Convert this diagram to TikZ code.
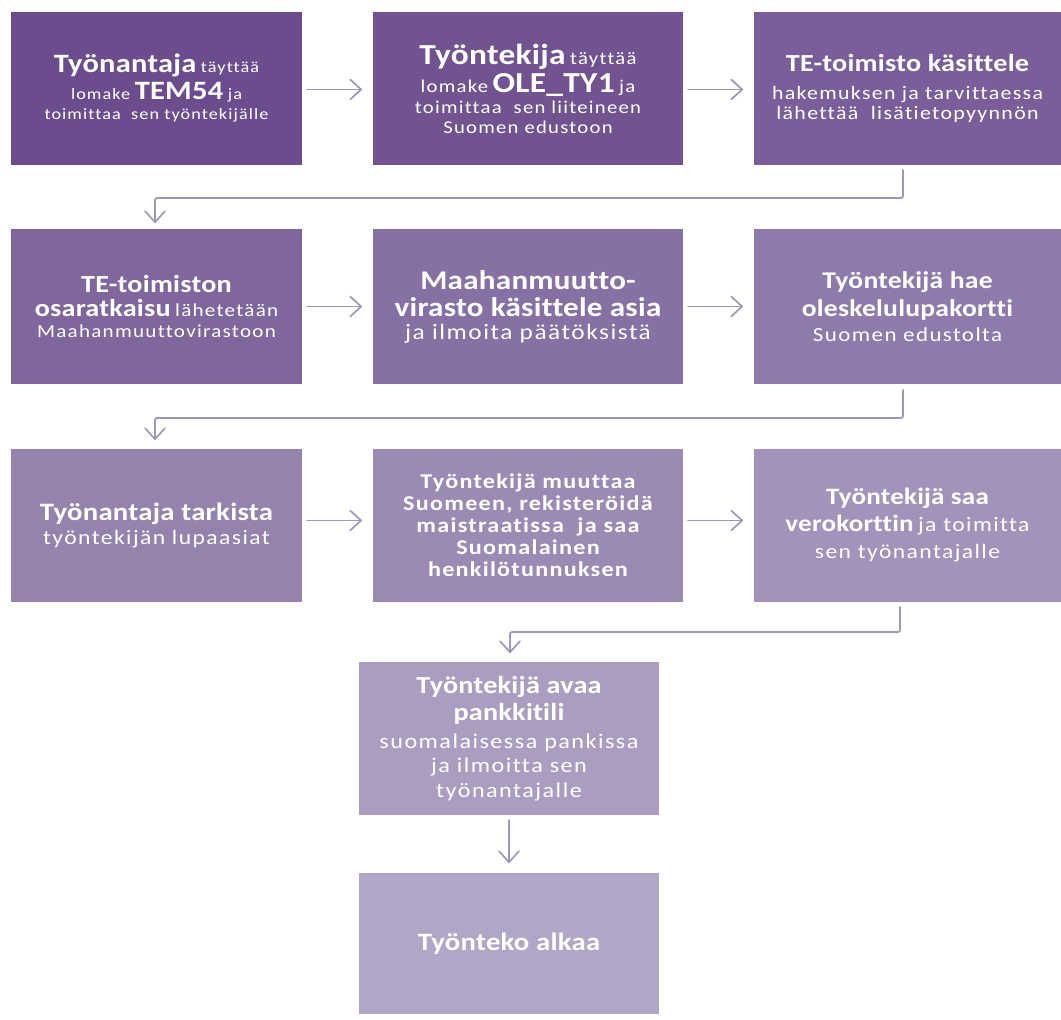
\documentclass[tikz,border=0pt]{standalone}
\usepackage{fontspec}
\setmainfont{Carlito}
\newfontfamily\fR[FakeStretch=1.15,LetterSpace=7,Ligatures=NoCommon]{Carlito}
\newfontfamily\fB[FakeStretch=1.15,LetterSpace=1,Ligatures=NoCommon]{Carlito}
\newfontfamily\fS[FakeStretch=1.15,LetterSpace=6,Ligatures=NoCommon]{Carlito}
\usetikzlibrary{arrows.meta}
\definecolor{cA}{HTML}{6B4D8E}
\definecolor{cB}{HTML}{70538F}
\definecolor{cC}{HTML}{7A5E9A}
\definecolor{cD}{HTML}{7F669C}
\definecolor{cE}{HTML}{8770A3}
\definecolor{cF}{HTML}{8E7AAB}
\definecolor{cG}{HTML}{9583AE}
\definecolor{cH}{HTML}{9B8AB3}
\definecolor{cI}{HTML}{A393BA}
\definecolor{cJ}{HTML}{AA9DBF}
\definecolor{cK}{HTML}{B0A6C6}
\definecolor{linec}{HTML}{A096B9}
\newcommand\hb[2]{{\fB\bfseries\fontsize{#1}{0}\selectfont #2}}
\newcommand\rg[2]{{\fR\fontsize{#1}{0}\selectfont #2}}
\newcommand\semib[2]{{\fS\bfseries\fontsize{#1}{0}\selectfont #2}}
\begin{document}
\begin{tikzpicture}[x=1pt,y=-1pt,
  box/.style={rectangle, inner sep=0pt, outer sep=0pt, text=white, align=center,
    font={\fontsize{20}{0}\selectfont\lineskiplimit=-1000pt\lineskip=0pt}},
  colA/.style={minimum width=291pt},
  colB/.style={minimum width=310pt},
  colC/.style={minimum width=307pt},
  conn/.style={draw=linec, line width=1.7pt, line cap=round, rounded corners=2pt,
    -{Straight Barb[length=11pt,width=20pt,line cap=round,line join=round]}},
  hconn/.style={conn}
]
\useasboundingbox (0,0) rectangle (1061,1020);

% Row 1
\node[box, colA, fill=cA, minimum height=153pt] (b11) at (156.5,88.5)
 {\hb{26.5}{Työnantaja} \rg{15.8}{täyttää}\\[27pt]
  \rg{15.8}{lomake} \hb{26.5}{TEM54} \rg{15.8}{ja}\\[20pt]
  \rg{15.8}{toimittaa\ \ sen työntekijälle}};
\node[box, colB, fill=cB, minimum height=153pt] (b12) at (528,88.5)
 {\hb{29}{Työntekija} \rg{18}{täyttää}\\[28pt]
  \rg{18}{lomake} \hb{29}{OLE\_TY1} \rg{18}{ja}\\[21pt]
  \rg{18}{toimittaa\ \ sen liiteineen}\\[20pt]
  \rg{18}{Suomen edustoon}};
\node[box, colC, fill=cC, minimum height=153pt] (b13) at (907.5,88.5)
 {\hb{24.5}{TE-toimisto käsittele}\\[28pt]
  \rg{19}{hakemuksen ja tarvittaessa}\\[20pt]
  \rg{19}{lähettää\ \ lisätietopyynnön}};

% Row 2
\node[box, colA, fill=cD, minimum height=155pt] (b21) at (156.5,306.5)
 {\hb{24.5}{TE-toimiston}\\[24pt]
  \hb{24.5}{osaratkaisu} \rg{18.3}{lähetetään}\\[21pt]
  \rg{18.3}{Maahanmuuttovirastoon}};
\node[box, colB, fill=cE, minimum height=155pt] (b22) at (528,306.5)
 {\hb{27}{Maahanmuutto-}\\[27pt]
  \hb{27}{virasto käsittele asia}\\[23pt]
  \rg{22}{ja ilmoita päätöksistä}};
\node[box, colC, fill=cF, minimum height=155pt] (b23) at (907.5,306.5)
 {\hb{24}{Työntekijä hae}\\[28pt]
  \hb{24}{oleskelulupakortti}\\[25pt]
  \rg{20}{Suomen edustolta}};

% Row 3
\node[box, colA, fill=cG, minimum height=153pt] (b31) at (156.5,525.5)
 {\hb{25}{Työnantaja tarkista}\\[24pt]
  \rg{20.5}{työntekijän lupaasiat}};
\node[box, colB, fill=cH, minimum height=153pt] (b32) at (528,525.5)
 {\semib{21}{Työntekijä muuttaa}\\[22pt]
  \semib{21}{Suomeen, rekisteröidä}\\[22pt]
  \semib{21}{maistraatissa\ \ ja saa}\\[22pt]
  \semib{21}{Suomalainen}\\[22pt]
  \semib{21}{henkilötunnuksen}};
\node[box, colC, fill=cI, minimum height=153pt] (b33) at (907.5,525.5)
 {\hb{23.5}{Työntekijä saa}\\[27pt]
  \hb{23.5}{verokorttin} \rg{20.5}{ja toimitta}\\[27pt]
  \rg{20.5}{sen työnantajalle}};

% Rows 4 and 5
\node[box, minimum width=300pt, fill=cJ, minimum height=153pt] (b4) at (509,738.5)
 {\hb{24.5}{Työntekijä avaa}\\[27pt]
  \hb{24.5}{pankkitili}\\[28pt]
  \rg{21}{suomalaisessa pankissa}\\[24pt]
  \rg{21}{ja ilmoitta sen}\\[25pt]
  \rg{21}{työnantajalle}};
\node[box, minimum width=300pt, fill=cK, minimum height=141pt] (b5) at (509,943.5)
 {\hb{25}{Työnteko alkaa}};

% Connectors
\draw[hconn] ([xshift=5pt,yshift=-1pt]b11.east) -- ([xshift=-11pt,yshift=-1pt]b12.west);
\draw[hconn] ([xshift=5pt,yshift=-1pt]b12.east) -- ([xshift=-11pt,yshift=-1pt]b13.west);
\draw[hconn] ([xshift=5pt]b21.east) -- ([xshift=-11pt]b22.west);
\draw[hconn] ([xshift=5pt]b22.east) -- ([xshift=-11pt]b23.west);
\draw[hconn] ([xshift=5pt,yshift=5pt]b31.east) -- ([xshift=-11pt,yshift=5pt]b32.west);
\draw[hconn] ([xshift=5pt,yshift=5pt]b32.east) -- ([xshift=-11pt,yshift=5pt]b33.west);

\draw[conn] ([xshift=-4.5pt,yshift=-5pt]b13.south) -- ++(0,28) -| ([xshift=-1.5pt,yshift=6pt]b21.north);
\draw[conn] ([xshift=-4.5pt,yshift=-6pt]b23.south) -- ++(0,28) -| ([xshift=-1.5pt,yshift=9pt]b31.north);
\draw[conn] ([xshift=-7.5pt,yshift=-5pt]b33.south) -- ++(0,25) -| ([xshift=1pt,yshift=9pt]b4.north);
\draw[conn] ([yshift=-5pt]b4.south) -- ([yshift=10pt]b5.north);
\end{tikzpicture}
\end{document}
